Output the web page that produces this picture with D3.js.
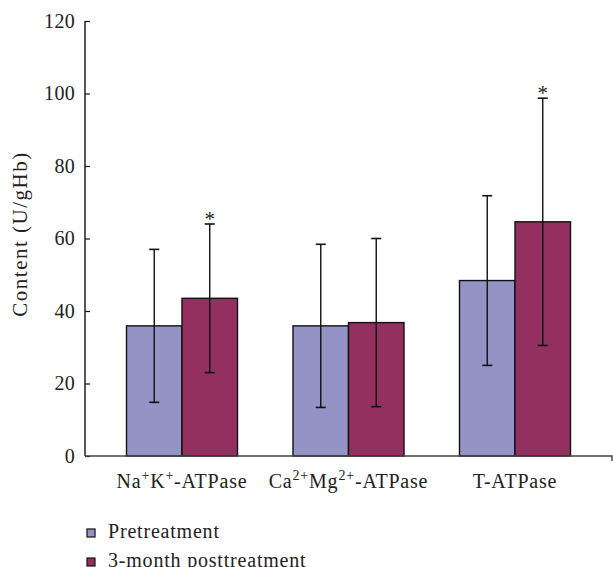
<!DOCTYPE html>
<html>
<head>
  <meta charset="utf-8">
  <script src="https://cdn.jsdelivr.net/npm/d3@7"></script>
  <style>
    body { margin: 0; background: #fff; }
    text { font-family: "Liberation Serif", serif; fill: #222; }
  </style>
</head>
<body>
<script>
  // data
  var categories = ["NaK", "CaMg", "T"];
  // label pieces: [text, isSuperscript]
  var catLabels = [
    [["Na", 0], ["+", 1], ["K", 0], ["+", 1], ["-ATPase", 0]],
    [["Ca", 0], ["2+", 1], ["Mg", 0], ["2+", 1], ["-ATPase", 0]],
    [["T-ATPase", 0]]
  ];
  var seriesNames = ["Pretreatment", "3-month posttreatment"];
  var preMean = [35.9, 35.9, 48.4];
  var preSD = [21.1, 22.5, 23.4];
  var postMean = [43.5, 36.8, 64.6];
  var postSD = [20.5, 23.2, 34.1];
  var postStar = [true, false, true];
  var yTicks = [0, 20, 40, 60, 80, 100, 120];

  var colors = ["#9393c6", "#93305f"];

  var W = 613, H = 567;
  var svg = d3.select("body").append("svg")
    .attr("width", W)
    .attr("height", H);

  var x0 = 85, y0 = 456;

  var y = d3.scaleLinear().domain([0, 120]).range([y0, 21]);
  var x = d3.scaleBand().domain(categories).range([98.75, 598.25]);
  var xs = d3.scaleBand().domain(seriesNames)
    .range([x.bandwidth() / 2 - 55.5, x.bandwidth() / 2 + 55.5]);

  var rows = [];
  categories.forEach(function(c, i) {
    rows.push({cat: c, s: 0, mean: preMean[i], sd: preSD[i], star: false});
    rows.push({cat: c, s: 1, mean: postMean[i], sd: postSD[i], star: postStar[i]});
  });

  // bars
  svg.selectAll("rect.bar").data(rows).enter().append("rect")
    .attr("class", "bar")
    .attr("x", function(d) { return x(d.cat) + xs(seriesNames[d.s]); })
    .attr("y", function(d) { return y(d.mean); })
    .attr("width", xs.bandwidth())
    .attr("height", function(d) { return y0 - y(d.mean); })
    .attr("fill", function(d) { return colors[d.s]; })
    .attr("stroke", "#111")
    .attr("stroke-width", 1.4);

  // error bars
  var eb = svg.selectAll("g.err").data(rows).enter().append("g")
    .attr("class", "err")
    .attr("transform", function(d) {
      return "translate(" + (x(d.cat) + xs(seriesNames[d.s]) + xs.bandwidth() / 2) + ",0)";
    });
  eb.append("line")
    .attr("x1", 0).attr("x2", 0)
    .attr("y1", function(d) { return y(d.mean + d.sd); })
    .attr("y2", function(d) { return y(d.mean - d.sd); })
    .attr("stroke", "#111").attr("stroke-width", 1.4);
  eb.append("line")
    .attr("x1", -5).attr("x2", 5)
    .attr("y1", function(d) { return y(d.mean + d.sd); })
    .attr("y2", function(d) { return y(d.mean + d.sd); })
    .attr("stroke", "#111").attr("stroke-width", 1.6);
  eb.append("line")
    .attr("x1", -5).attr("x2", 5)
    .attr("y1", function(d) { return y(d.mean - d.sd); })
    .attr("y2", function(d) { return y(d.mean - d.sd); })
    .attr("stroke", "#111").attr("stroke-width", 1.6);
  eb.filter(function(d) { return d.star; }).append("text")
    .attr("x", 0)
    .attr("y", function(d) { return y(d.mean + d.sd) + 2; })
    .attr("text-anchor", "middle")
    .style("font-size", "21px")
    .text("*");

  // y axis (inward ticks)
  var yAxis = svg.append("g")
    .attr("transform", "translate(" + x0 + ",0)")
    .call(d3.axisRight(y).tickValues(yTicks).tickSize(5).tickFormat(d3.format("d")));
  yAxis.select(".domain").attr("d", "M0," + y(120) + "V" + y0)
    .attr("stroke", "#111").attr("stroke-width", 1.4);
  yAxis.selectAll(".tick line").attr("stroke", "#111").attr("stroke-width", 1.2);
  yAxis.selectAll(".tick text")
    .attr("x", -10)
    .attr("text-anchor", "end")
    .style("font-family", "Liberation Serif, serif")
    .style("font-size", "20px")
    .style("letter-spacing", "0.3px")
    .style("fill", "#222");

  // x axis line
  svg.append("path")
    .attr("d", "M" + x0 + "," + y0 + "H612V" + (y0 + 5))
    .attr("fill", "none")
    .attr("stroke", "#444")
    .attr("stroke-width", 1.4);

  // category labels
  var lab = svg.selectAll("text.cat").data(categories).enter().append("text")
    .attr("class", "cat")
    .attr("x", function(d) { return x(d) + x.bandwidth() / 2; })
    .attr("y", 488)
    .attr("text-anchor", "middle")
    .style("font-size", "20px")
    .style("letter-spacing", "0.8px");
  lab.each(function(d, i) {
    var t = d3.select(this);
    var prevSup = false;
    catLabels[i].forEach(function(p) {
      var sp = t.append("tspan").text(p[0]);
      if (p[1]) {
        sp.attr("dy", -8).style("font-size", "14px");
        prevSup = true;
      } else if (prevSup) {
        sp.attr("dy", 8);
        prevSup = false;
      }
    });
  });

  // y axis title
  svg.append("text")
    .attr("transform", "translate(27,234) rotate(-90)")
    .attr("text-anchor", "middle")
    .style("font-size", "21px")
    .style("letter-spacing", "1.5px")
    .text("Content (U/gHb)");

  // legend
  var leg = svg.selectAll("g.leg").data(seriesNames).enter().append("g")
    .attr("class", "leg")
    .attr("transform", function(d, i) { return "translate(87," + (529 + i * 29) + ")"; });
  leg.append("rect")
    .attr("width", 8).attr("height", 8)
    .attr("fill", function(d, i) { return colors[i]; })
    .attr("stroke", "#111").attr("stroke-width", 1.2);
  leg.append("text")
    .attr("x", 21).attr("y", 9)
    .style("font-size", "20px")
    .style("letter-spacing", "0.8px")
    .text(function(d) { return d; });
</script>
</body>
</html>
